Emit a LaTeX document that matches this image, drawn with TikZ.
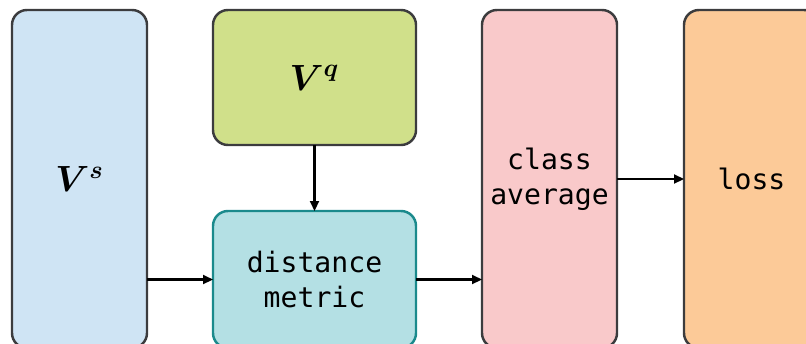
\documentclass[tikz,border=0pt]{standalone}
\usepackage{fontspec}
\usepackage{bm}
\setmonofont{DejaVu Sans Mono}
\usetikzlibrary{arrows.meta,positioning}
\definecolor{edgegray}{HTML}{3C3C3E}
\definecolor{tealedge}{HTML}{1B8A8C}
\definecolor{supfill}{HTML}{CFE4F4}
\definecolor{qryfill}{HTML}{D0E08A}
\definecolor{distfill}{HTML}{B4E0E4}
\definecolor{avgfill}{HTML}{F9C9CA}
\definecolor{lossfill}{HTML}{FCCA98}
\tikzset{
  block/.style={draw=edgegray, line width=1.4pt, rounded corners=8.5pt, align=center, inner sep=2pt, outer sep=0pt, font=\ttfamily\fontsize{16}{20}\selectfont},
  tall/.style={block, minimum width=2.7cm, minimum height=6.76cm},
  wide/.style={block, minimum width=4.06cm},
  flow/.style={-{Triangle[length=2mm,width=1.8mm]}, line width=1.2pt, draw=black}
}
\begin{document}
\begin{tikzpicture}
  \useasboundingbox (0,0) rectangle (16.12,6.86);
  \node[tall, fill=supfill] (vs) at (1.59,3.28) {\fontsize{20}{24}\selectfont$\bm{V}^{\bm{s}}$};
  \node[wide, fill=qryfill, minimum height=2.7cm] (vq) at (6.29,5.31) {\fontsize{20}{24}\selectfont$\bm{V}^{\bm{q}}$};
  \node[wide, fill=distfill, draw=tealedge, minimum height=2.74cm] (dm) at (6.29,1.27) {distance\\metric};
  \node[tall, fill=avgfill] (ca) at (10.99,3.28) {class\\average};
  \node[tall, fill=lossfill] (loss) at (15.03,3.28) {loss};

  \draw[flow] (vq) -- (dm);
  \draw[flow] (dm.west -| vs.east) -- (dm.west);
  \draw[flow] (dm.east) -- (dm.east -| ca.west);
  \draw[flow] (ca) -- (loss);
\end{tikzpicture}
\end{document}
